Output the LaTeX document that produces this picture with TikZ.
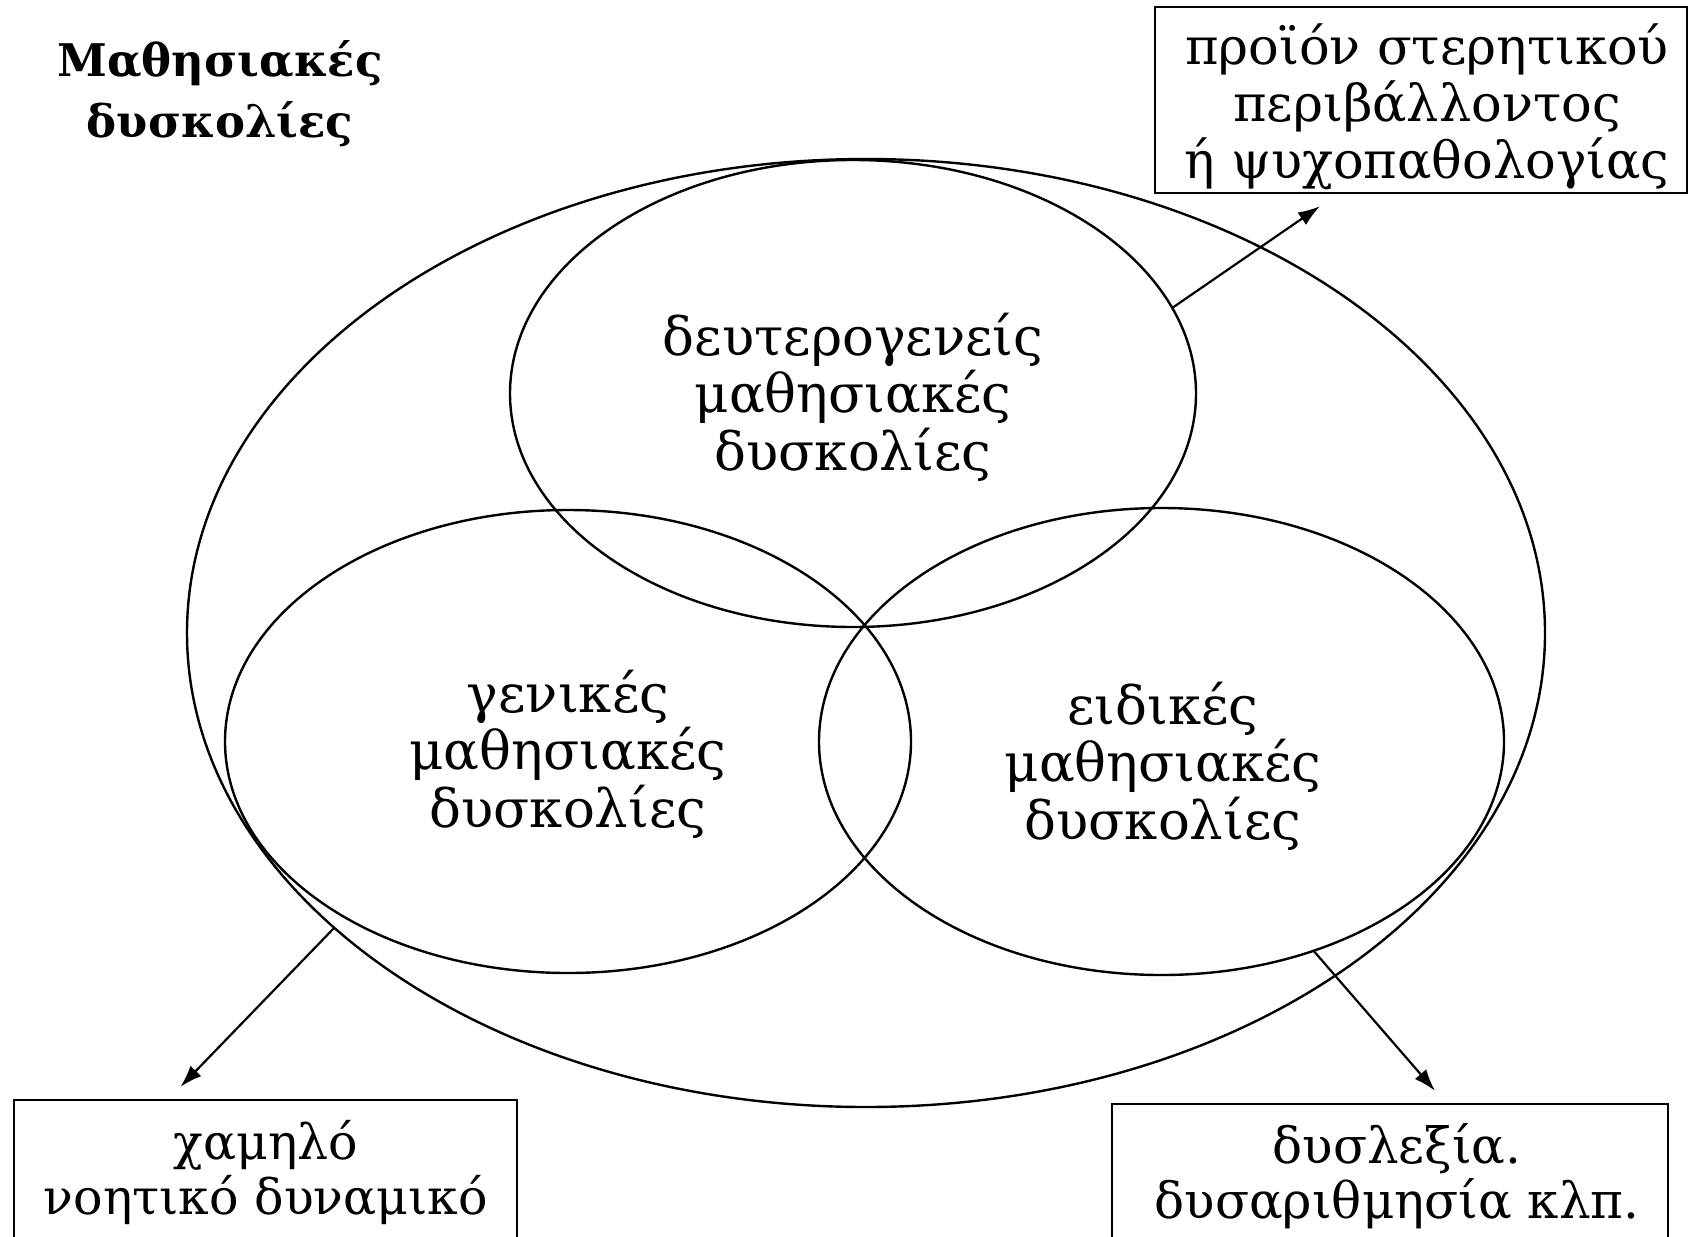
\documentclass[tikz,border=0pt]{standalone}
\usepackage{fontspec}
\setmainfont{DejaVu Serif}
\usetikzlibrary{shapes.geometric,arrows.meta}
\tikzset{
  venn/.style={ellipse, draw, line width=1.2pt, inner sep=0pt, outer sep=0pt},
  lbl/.style={align=center, font=\fontsize{26.5}{28.7}\selectfont, inner sep=0pt},
  infobox/.style={draw, line width=1.2pt, inner sep=0pt},
  boxtxt/.style={align=center, inner sep=0pt},
  arr/.style={-{Latex[length=11pt,width=7.5pt]}, line width=1.1pt}
}
\begin{document}
\begin{tikzpicture}[x=0.5pt,y=-0.5pt]
\useasboundingbox (0,0) rectangle (1701,1236);
% title
\node[boxtxt, font=\bfseries\fontsize{22.5}{30.5}\selectfont] (title) at (220,94) {Μαθησιακές\\δυσκολίες};
% ellipses
\node[venn, minimum width=679pt, minimum height=474pt] (big) at (866,633) {};
\node[venn, minimum width=343pt, minimum height=233.5pt] (top) at (853,393.5) {};
\node[venn, minimum width=343pt, minimum height=231.5pt] (left) at (568,741.5) {};
\node[venn, minimum width=342.5pt, minimum height=233.5pt] (right) at (1161.5,741.5) {};
% inner labels
\node[lbl] (ltop) at (853,397) {δευτερογενείς\\μαθησιακές\\δυσκολίες};
\node[lbl] (lleft) at (568,754) {γενικές\\μαθησιακές\\δυσκολίες};
\node[lbl] (lright) at (1163,766) {ειδικές\\μαθησιακές\\δυσκολίες};
% boxes
\node[infobox, minimum width=266pt, minimum height=93pt] (tr) at (1421,100) {};
\node[boxtxt, font=\fontsize{25.5}{28.5}\selectfont] (trt) at (1427,107)
  {προϊόν στερητικού\\περιβάλλοντος\\ή ψυχοπαθολογίας};
\node[infobox, minimum width=251.5pt, minimum height=72.5pt] (bl) at (265.5,1172.5) {};
\node[boxtxt, font=\fontsize{24.5}{27.5}\selectfont] (blt) at (266,1172)
  {χαμηλό\\νοητικό δυναμικό};
\node[infobox, minimum width=278pt, minimum height=70.5pt] (br) at (1390,1174.5) {};
\node[boxtxt, font=\fontsize{25}{27.5}\selectfont] (brt) at (1397,1176)
  {δυσλεξία.\\δυσαριθμησία κλπ.};
% arrows
\draw[arr] (top.15.5) -- ([xshift=-50.5pt,yshift=-6pt]tr.south);
\draw[arr] (big.209.3) -- ([xshift=-42.5pt,yshift=6pt]bl.north);
\draw[arr] (right.-54.8) -- ([xshift=22.5pt,yshift=6pt]br.north);
\end{tikzpicture}
\end{document}
